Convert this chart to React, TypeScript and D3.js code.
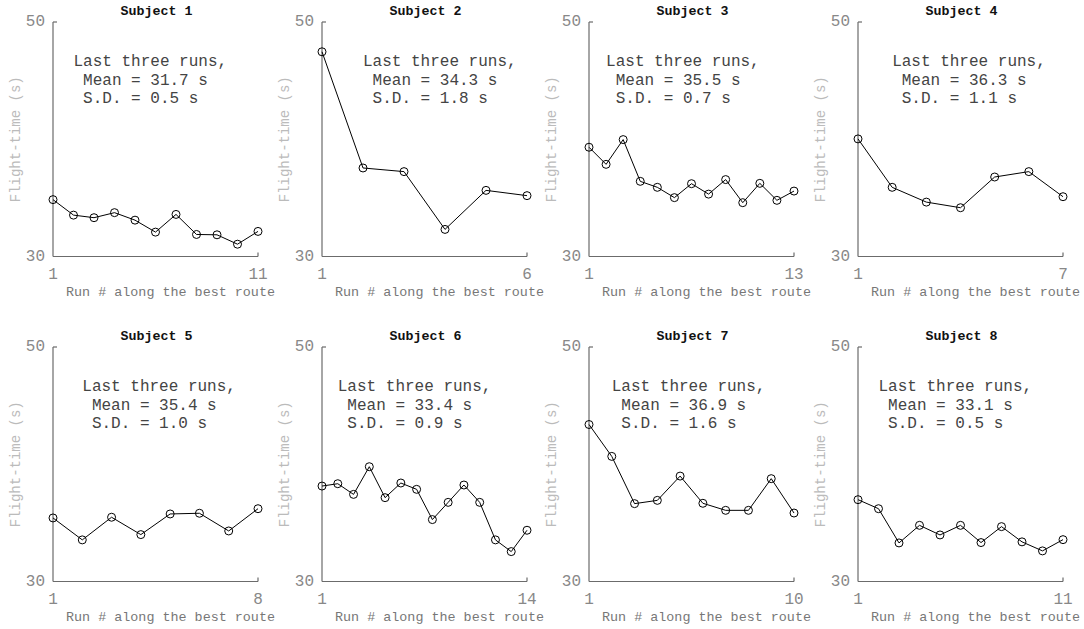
import React from "react";
import * as d3 from "d3";

const subjects = ["Subject 1", "Subject 2", "Subject 3", "Subject 4", "Subject 5", "Subject 6", "Subject 7", "Subject 8"];

const s1 = [34.85, 33.53, 33.31, 33.74, 33.1, 32.08, 33.59, 31.88, 31.85, 31.05, 32.14];
const s2 = [47.46, 37.55, 37.24, 32.31, 35.64, 35.19];
const s3 = [39.32, 37.86, 39.97, 36.41, 35.9, 35.02, 36.21, 35.32, 36.56, 34.59, 36.24, 34.79, 35.58];
const s4 = [40.03, 35.9, 34.64, 34.16, 36.78, 37.24, 35.1];
const s5 = [35.42, 33.55, 35.48, 34.0, 35.76, 35.82, 34.31, 36.21];
const s6 = [38.14, 38.34, 37.43, 39.79, 37.15, 38.4, 37.86, 35.28, 36.75, 38.23, 36.75, 33.55, 32.55, 34.37];
const s7 = [43.39, 40.67, 36.64, 36.92, 38.99, 36.67, 36.07, 36.07, 38.77, 35.84];
const s8 = [36.98, 36.21, 33.29, 34.79, 33.97, 34.79, 33.32, 34.68, 33.38, 32.61, 33.57];

const series = [s1, s2, s3, s4, s5, s6, s7, s8];
const means = ["31.7", "34.3", "35.5", "36.3", "35.4", "33.4", "36.9", "33.1"];
const sds = ["0.5", "1.8", "0.7", "1.1", "1.0", "0.9", "1.6", "0.5"];

const yTicks = [30, 50];
const annotX = 2;
const annotY = 45;

const FONT = "'Liberation Mono', 'Courier New', monospace";

const lefts = [53, 322, 589, 858];
const tops = [22, 347];
const PW = 205;
const PH = 234.5;

function Panel({ idx }: { idx: number }) {
  const data = series[idx];
  const n = data.length;
  const left = lefts[idx % 4];
  const top = tops[Math.floor(idx / 4)];
  const x = d3.scaleLinear().domain([1, n]).range([left, left + PW]);
  const y = d3.scaleLinear().domain([30, 50]).range([top + PH, top]);
  const line = d3
    .line<number>()
    .x((_, i) => x(i + 1))
    .y((d) => y(d));
  const axisColor = "#6b6b6b";
  const cx = left + PW / 2;
  const ax = x(annotX);
  const ay = y(annotY);
  return (
    <g>
      <text x={cx + 1} y={top - 10.5} textAnchor="middle" dominantBaseline="middle" fontFamily={FONT} fontWeight="bold" fontSize={13.3} fill="#111">
        {subjects[idx]}
      </text>
      <line x1={x(1)} x2={x(1)} y1={y(50)} y2={y(30)} stroke={axisColor} strokeWidth={1.2} />
      <line x1={x(1)} x2={x(n)} y1={y(30)} y2={y(30)} stroke={axisColor} strokeWidth={1.2} />
      <line x1={x(1)} x2={x(1) + 4} y1={y(50)} y2={y(50)} stroke={axisColor} strokeWidth={1.2} />
      <line x1={x(n)} x2={x(n)} y1={y(30)} y2={y(30) - 4} stroke={axisColor} strokeWidth={1.2} />
      {yTicks.map((t) => (
        <text key={t} x={x(1) - 8} y={y(t)} textAnchor="end" dominantBaseline="middle" fontFamily={FONT} fontSize={16} fill="#888">
          {t}
        </text>
      ))}
      {[1, n].map((t) => (
        <text key={t} x={x(t)} y={y(30) + 18} textAnchor="middle" dominantBaseline="middle" fontFamily={FONT} fontSize={16} fill="#888">
          {t}
        </text>
      ))}
      <text x={cx + 15} y={y(30) + 36} textAnchor="middle" dominantBaseline="middle" fontFamily={FONT} fontSize={13.4} fill="#777">
        Run # along the best route
      </text>
      <text
        transform={`translate(${left - 37},${top + PH / 2}) rotate(-90)`}
        textAnchor="middle"
        dominantBaseline="middle"
        fontFamily={FONT}
        fontSize={14}
        fill="#bbb"
      >
        Flight-time (s)
      </text>
      <text fontFamily={FONT} fontSize={16} fill="#444" dominantBaseline="middle" style={{ whiteSpace: "pre" }}>
        <tspan x={ax} y={ay - 18.3}>Last three runs,</tspan>
        <tspan x={ax} y={ay}>{` Mean = ${means[idx]} s`}</tspan>
        <tspan x={ax} y={ay + 18.3}>{` S.D. = ${sds[idx]} s`}</tspan>
      </text>
      <path d={line(data) || ""} fill="none" stroke="#000" strokeWidth={1} />
      {data.map((d, i) => (
        <circle key={i} cx={x(i + 1)} cy={y(d)} r={4} fill="none" stroke="#000" strokeWidth={1} />
      ))}
    </g>
  );
}

export default function App() {
  return (
    <svg width={1084} height={629} style={{ position: "absolute", left: 0, top: 0, background: "#fff" }}>
      <rect x={0} y={0} width={1084} height={629} fill="#fff" />
      {subjects.map((_, i) => (
        <Panel key={i} idx={i} />
      ))}
    </svg>
  );
}
